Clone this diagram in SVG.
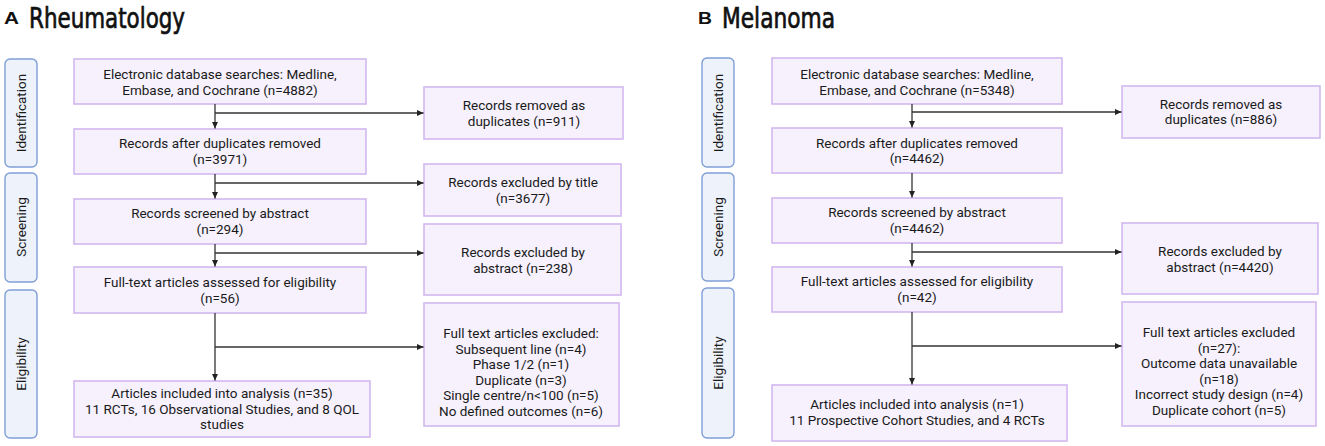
<svg xmlns="http://www.w3.org/2000/svg" width="1325" height="446" viewBox="0 0 1325 446">
<style>
.bg{fill:#ffffff}
.box{fill:#f6f1fd;stroke:#d3b8ef;stroke-width:1.6}
.side{fill:#edf2fb;stroke:#7f9fd6;stroke-width:1.4}
.t{font-family:Roboto,"Liberation Sans",sans-serif;font-size:13.5px;fill:#1a1a1a;text-anchor:middle}
.st{font-family:Roboto,"Liberation Sans",sans-serif;font-size:13.5px;fill:#1a1a1a;text-anchor:middle}
.big{font-family:"DejaVu Sans Condensed","Liberation Sans Narrow",sans-serif;font-size:29px;fill:#111;stroke:#111;stroke-width:0.7}
.lab{font-family:"Liberation Sans",Arial,sans-serif;font-size:17px;font-weight:bold;fill:#111}
.c{fill:none;stroke:#333;stroke-width:1.3}
</style>
<defs>
<marker id="ah" markerWidth="8" markerHeight="8" refX="7" refY="4" orient="auto" markerUnits="userSpaceOnUse">
<path d="M0,0.8 L7,4 L0,7.2 Z" fill="#222"/>
</marker>
</defs>
<rect class="bg" x="0" y="0" width="1325" height="446"/>

<g id="titleA">
<text class="lab" x="4" y="24" textLength="15" lengthAdjust="spacingAndGlyphs">A</text>
<text class="big" x="29" y="28" textLength="156" lengthAdjust="spacingAndGlyphs">Rheumatology</text>
</g>
<g id="titleB">
<text class="lab" x="698" y="24" textLength="14" lengthAdjust="spacingAndGlyphs">B</text>
<text class="big" x="722" y="28" textLength="113" lengthAdjust="spacingAndGlyphs">Melanoma</text>
</g>

<!-- Panel A stage labels -->
<g id="A-identification"><rect class="side" x="5" y="59" width="32" height="108" rx="5"/><text class="st" transform="translate(25.5,113) rotate(-90)">Identification</text></g>
<g id="A-screening"><rect class="side" x="5" y="173" width="32" height="109" rx="5"/><text class="st" transform="translate(25.5,227) rotate(-90)">Screening</text></g>
<g id="A-eligibility"><rect class="side" x="5" y="290" width="32" height="148" rx="5"/><text class="st" transform="translate(25.5,364) rotate(-90)">Eligibility</text></g>

<!-- Panel A main boxes -->
<g id="A-search"><rect class="box" x="74" y="59" width="292" height="45"/>
<text class="t" x="220" y="79">Electronic database searches: Medline,</text>
<text class="t" x="220" y="95">Embase, and Cochrane (n=4882)</text></g>
<g id="A-dedup"><rect class="box" x="74" y="129" width="292" height="45"/>
<text class="t" x="220" y="148">Records after duplicates removed</text>
<text class="t" x="220" y="164">(n=3971)</text></g>
<g id="A-screened"><rect class="box" x="74" y="199" width="292" height="45"/>
<text class="t" x="220" y="218">Records screened by abstract</text>
<text class="t" x="220" y="234">(n=294)</text></g>
<g id="A-fulltext"><rect class="box" x="74" y="267" width="292" height="46"/>
<text class="t" x="220" y="287">Full-text articles assessed for eligibility</text>
<text class="t" x="220" y="303">(n=56)</text></g>
<g id="A-included"><rect class="box" x="74" y="381" width="296" height="56"/>
<text class="t" x="222" y="398">Articles included into analysis (n=35)</text>
<text class="t" x="222" y="413.5">11 RCTs, 16 Observational Studies, and 8 QOL</text>
<text class="t" x="222" y="429">studies</text></g>

<!-- Panel A right boxes -->
<g id="A-removed"><rect class="box" x="424" y="87" width="199" height="52"/>
<text class="t" x="524" y="110">Records removed as</text>
<text class="t" x="524" y="125.5">duplicates (n=911)</text></g>
<g id="A-extitle"><rect class="box" x="424" y="164" width="197" height="52"/>
<text class="t" x="523" y="187">Records excluded by title</text>
<text class="t" x="523" y="202.5">(n=3677)</text></g>
<g id="A-exabstract"><rect class="box" x="424" y="224" width="197" height="71"/>
<text class="t" x="523" y="257">Records excluded by</text>
<text class="t" x="523" y="272.5">abstract (n=238)</text></g>
<g id="A-exfull"><rect class="box" x="424" y="303" width="195" height="123"/>
<text class="t" x="521" y="338">Full text articles excluded:</text>
<text class="t" x="521" y="353.5">Subsequent line  (n=4)</text>
<text class="t" x="521" y="369">Phase 1/2 (n=1)</text>
<text class="t" x="521" y="384.5">Duplicate (n=3)</text>
<text class="t" x="521" y="400">Single centre/n&lt;100 (n=5)</text>
<text class="t" x="521" y="415.5">No defined outcomes (n=6)</text></g>

<!-- Panel B stage labels -->
<g id="B-identification"><rect class="side" x="702" y="58" width="32" height="109" rx="5"/><text class="st" transform="translate(722.5,113) rotate(-90)">Identification</text></g>
<g id="B-screening"><rect class="side" x="702" y="173" width="32" height="108" rx="5"/><text class="st" transform="translate(722.5,227) rotate(-90)">Screening</text></g>
<g id="B-eligibility"><rect class="side" x="702" y="288" width="32" height="150" rx="5"/><text class="st" transform="translate(722.5,363) rotate(-90)">Eligibility</text></g>

<!-- Panel B main boxes -->
<g id="B-search"><rect class="box" x="772" y="58" width="290" height="46"/>
<text class="t" x="917" y="78.5">Electronic database searches: Medline,</text>
<text class="t" x="917" y="94.5">Embase, and Cochrane (n=5348)</text></g>
<g id="B-dedup"><rect class="box" x="772" y="128" width="290" height="45"/>
<text class="t" x="917" y="147.5">Records after duplicates removed</text>
<text class="t" x="917" y="163">(n=4462)</text></g>
<g id="B-screened"><rect class="box" x="772" y="198" width="290" height="45"/>
<text class="t" x="917" y="217">Records screened by abstract</text>
<text class="t" x="917" y="233">(n=4462)</text></g>
<g id="B-fulltext"><rect class="box" x="772" y="267" width="290" height="45"/>
<text class="t" x="917" y="285.5">Full-text articles assessed for eligibility</text>
<text class="t" x="917" y="301.5">(n=42)</text></g>
<g id="B-included"><rect class="box" x="772" y="385" width="295" height="56"/>
<text class="t" x="917" y="409">Articles included into analysis (n=1)</text>
<text class="t" x="917" y="424.5">11 Prospective Cohort Studies, and 4 RCTs</text></g>

<!-- Panel B right boxes -->
<g id="B-removed"><rect class="box" x="1122" y="86" width="198" height="52"/>
<text class="t" x="1221" y="108.5">Records removed as</text>
<text class="t" x="1221" y="124">duplicates (n=886)</text></g>
<g id="B-exabstract"><rect class="box" x="1122" y="223" width="196" height="71"/>
<text class="t" x="1220" y="256">Records excluded by</text>
<text class="t" x="1220" y="271.5">abstract (n=4420)</text></g>
<g id="B-exfull"><rect class="box" x="1122" y="302" width="194" height="124"/>
<text class="t" x="1219" y="337">Full text articles excluded</text>
<text class="t" x="1219" y="352.5">(n=27):</text>
<text class="t" x="1219" y="368">Outcome data unavailable</text>
<text class="t" x="1219" y="383.5">(n=18)</text>
<text class="t" x="1219" y="399">Incorrect study design (n=4)</text>
<text class="t" x="1219" y="414.5">Duplicate cohort (n=5)</text></g>

<g id="connectors">
<!-- A -->
<path class="c" d="M215,104 V128.5" marker-end="url(#ah)"/>
<path class="c" d="M215,113 H423.5" marker-end="url(#ah)"/>
<path class="c" d="M215,174 V198.5" marker-end="url(#ah)"/>
<path class="c" d="M215,183 H423.5" marker-end="url(#ah)"/>
<path class="c" d="M215,244 V266.5" marker-end="url(#ah)"/>
<path class="c" d="M215,253 H423.5" marker-end="url(#ah)"/>
<path class="c" d="M215,313 V380.5" marker-end="url(#ah)"/>
<path class="c" d="M215,347 H423.5" marker-end="url(#ah)"/>
<!-- B -->
<path class="c" d="M912,104 V127.5" marker-end="url(#ah)"/>
<path class="c" d="M912,112 H1121.5" marker-end="url(#ah)"/>
<path class="c" d="M912,173 V197.5" marker-end="url(#ah)"/>
<path class="c" d="M912,243 V266.5" marker-end="url(#ah)"/>
<path class="c" d="M912,252 H1121.5" marker-end="url(#ah)"/>
<path class="c" d="M912,312 V384.5" marker-end="url(#ah)"/>
<path class="c" d="M912,346 H1121.5" marker-end="url(#ah)"/>
</g>
</svg>
